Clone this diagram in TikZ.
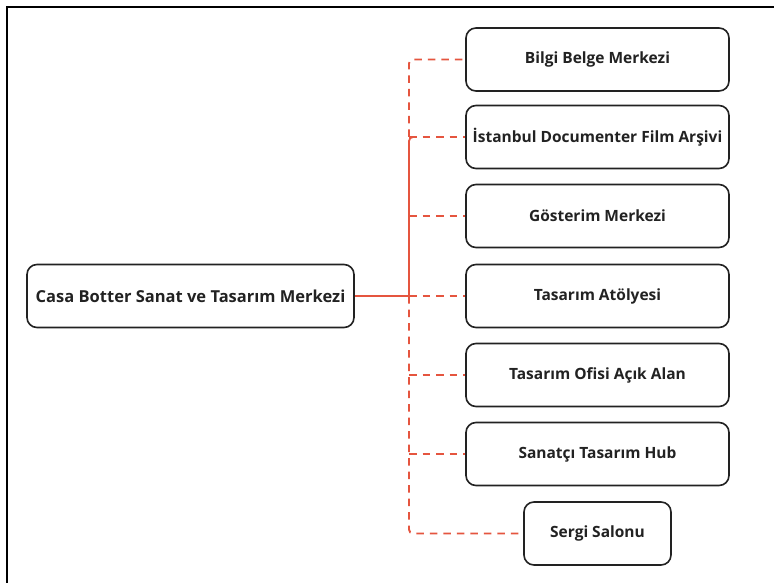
\documentclass[tikz,border=0pt]{standalone}
\usepackage{fontspec}
\setmainfont{Open Sans}
\usetikzlibrary{calc}
\definecolor{linkred}{HTML}{E5553F}
\definecolor{boxline}{HTML}{222222}
\tikzset{
  box/.style={draw=boxline, line width=1.6pt, rounded corners=10pt, fill=white,
    minimum height=63pt, inner sep=0pt, align=center,
    font=\fontsize{15.5}{18}\selectfont\bfseries, text=boxline},
  rbox/.style={box, minimum width=263pt},
  solidc/.style={draw=linkred, line width=1.8pt},
  dashc/.style={draw=linkred, line width=1.9pt, dash pattern=on 7.5pt off 6pt},
}
\begin{document}
\begin{tikzpicture}[x=1pt,y=-1pt]
\clip (0,0) rectangle (774,583);
\fill[white] (0,0) rectangle (774,583);
\draw[line width=2pt, black] (7,600) -- (7,7) -- (790,7);
\node[box, minimum width=327pt, font=\fontsize{16.5}{19}\selectfont\bfseries] (main) at (190.5,296) {Casa Botter Sanat ve Tasarım Merkezi};
\node[rbox] (n1) at (597.5,59.5) {Bilgi Belge Merkezi};
\node[rbox] (n2) at (597.5,137) {İstanbul Documenter Film Arşivi};
\node[rbox] (n3) at (597.5,216) {Gösterim Merkezi};
\node[rbox] (n4) at (597.5,296) {Tasarım Atölyesi};
\node[rbox] (n5) at (597.5,375) {Tasarım Ofisi Açık Alan};
\node[rbox] (n6) at (597.5,454) {Sanatçı Tasarım Hub};
\node[box, minimum width=147pt] (n7) at (597.5,533.5) {Sergi Salonu};
\coordinate (j) at (409,296);
\draw[solidc] (main.east) -- (j);
\draw[dashc, rounded corners=4pt] (j |- n2.west) |- (n1.west);
\draw[dashc, rounded corners=4pt] (j) |- (n7.west);
\draw[dashc] (j) -- (n4.west);
\draw[dashc] (j |- n3.west) -- (n3.west);
\draw[dashc] (j |- n5.west) -- (n5.west);
\draw[dashc] (j |- n6.west) -- (n6.west);
\draw[dashc] (j |- n2.west) -- (n2.west);
\draw[solidc, rounded corners=4pt] (j) |- ($(j |- n2.west)+(7,0)$);
\end{tikzpicture}
\end{document}
